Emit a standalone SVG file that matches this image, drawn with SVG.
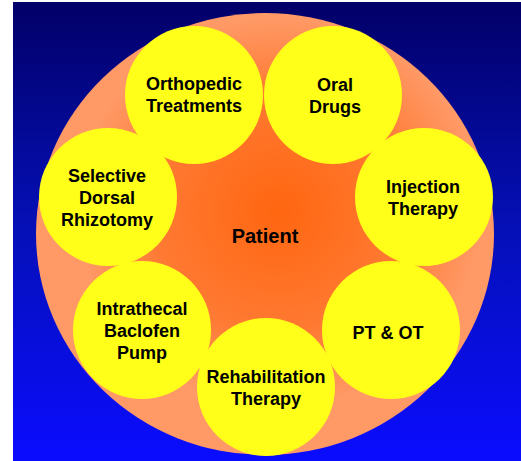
<svg xmlns="http://www.w3.org/2000/svg" width="521" height="461" viewBox="0 0 521 461">
<defs>
<linearGradient id="bg" x1="0" y1="0" x2="0" y2="1">
<stop offset="0" stop-color="#020068"/>
<stop offset="0.5" stop-color="#0510B8"/>
<stop offset="1" stop-color="#0A0CFF"/>
</linearGradient>
<radialGradient id="core" cx="0.53" cy="0.45" r="0.55">
<stop offset="0" stop-color="#FF6610"/>
<stop offset="0.5" stop-color="#FF7A33"/>
<stop offset="0.8" stop-color="#FF9966"/>
<stop offset="1" stop-color="#FF9966"/>
</radialGradient>
</defs>
<style>
.n{fill:#FFFF19;}
.t{font-family:"Liberation Sans",Arial,sans-serif;font-weight:bold;font-size:18px;fill:#000;text-anchor:middle;}
</style>
<rect x="13" y="2" width="508" height="459" fill="url(#bg)"/>
<g id="patient">
<ellipse cx="265" cy="234" rx="229" ry="221" fill="url(#core)"/>
<text class="t" x="265" y="243" style="font-size:20px">Patient</text>
</g>
<g id="connectors"/>
<g id="orthopedic">
<circle class="n" cx="194" cy="95" r="69"/>
<text class="t" x="194" y="90">Orthopedic</text>
<text class="t" x="194" y="112">Treatments</text>
</g>
<g id="oral">
<circle class="n" cx="333" cy="95" r="69"/>
<text class="t" x="335" y="91">Oral</text>
<text class="t" x="335" y="113">Drugs</text>
</g>
<g id="injection">
<circle class="n" cx="424" cy="197" r="69"/>
<text class="t" x="423" y="193">Injection</text>
<text class="t" x="423" y="215">Therapy</text>
</g>
<g id="ptot">
<circle class="n" cx="391" cy="330" r="69"/>
<text class="t" x="388" y="339">PT &amp; OT</text>
</g>
<g id="intrathecal">
<circle class="n" cx="142" cy="330" r="69"/>
<text class="t" x="142" y="315">Intrathecal</text>
<text class="t" x="142" y="337">Baclofen</text>
<text class="t" x="142" y="359">Pump</text>
</g>
<g id="selective">
<circle class="n" cx="108" cy="197" r="69"/>
<text class="t" x="107" y="182">Selective</text>
<text class="t" x="107" y="204">Dorsal</text>
<text class="t" x="107" y="226">Rhizotomy</text>
</g>
<g id="rehabilitation">
<circle class="n" cx="266" cy="387" r="69"/>
<text class="t" x="266" y="383">Rehabilitation</text>
<text class="t" x="266" y="405">Therapy</text>
</g>
</svg>
